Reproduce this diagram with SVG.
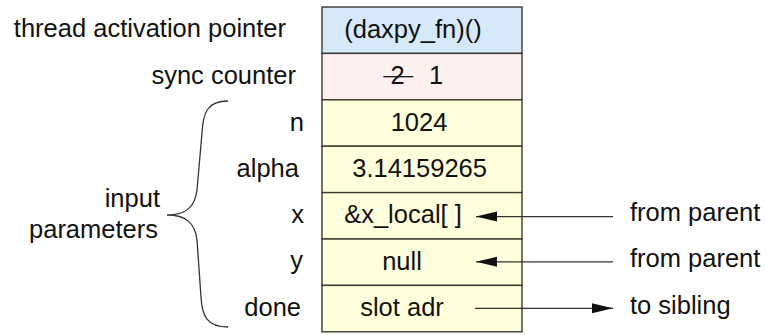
<svg xmlns="http://www.w3.org/2000/svg" width="766" height="335" viewBox="0 0 766 335">
<style>
text{font-family:"Liberation Sans",Arial,sans-serif;font-size:25.5px;fill:#111}
.r{text-anchor:end}
.m{text-anchor:middle}
.cell{stroke:#3a3a32;stroke-width:1.4}
.conn{stroke:#333;stroke-width:1.3;fill:none}
</style>
<defs>
<marker id="ah" markerUnits="userSpaceOnUse" markerWidth="22" markerHeight="12" refX="21" refY="5" orient="auto">
<path d="M0,0 L21,5 L0,10 Z" fill="#111"/>
</marker>
</defs>
<rect width="766" height="335" fill="#fff"/>
<g id="labels">
<text class="r" x="286" y="37">thread activation pointer</text>
<text class="r" x="296" y="83.5">sync counter</text>
<text class="r" x="304" y="130.5">n</text>
<text class="r" x="299" y="176.8">alpha</text>
<text class="r" x="304" y="223">x</text>
<text class="r" x="303" y="269">y</text>
<text class="r" x="301" y="315.5">done</text>
<text class="r" x="160" y="206.5">input</text>
<text class="r" x="158" y="238">parameters</text>
</g>
<g id="brace">
<path class="conn" d="M228,101 C207,101 203,113 202,133 L197,190 C195,207 186,215 167,215 C186,215 195,223 197,240 L201,297 C202,316 207,327 228,327"/>
</g>
<g id="frame">
<g id="row-pointer"><rect class="cell" x="322" y="7" width="200" height="46.4" fill="#d6e9fb"/><text class="m" x="413" y="37.5">(daxpy_fn)()</text></g>
<g id="row-sync"><rect class="cell" x="322" y="53.4" width="200" height="46.4" fill="#fff0f0"/><text x="390.5" y="83.5">2</text><line x1="383.3" y1="76.7" x2="413.3" y2="76.7" stroke="#111" stroke-width="1.3"/><text x="429" y="83.5">1</text></g>
<g id="row-n"><rect class="cell" x="322" y="99.8" width="200" height="46.4" fill="#ffffdc"/><text class="m" x="419" y="130.5">1024</text></g>
<g id="row-alpha"><rect class="cell" x="322" y="146.2" width="200" height="46.4" fill="#ffffdc"/><text class="m" x="419.6" y="176.8">3.14159265</text></g>
<g id="row-x"><rect class="cell" x="322" y="192.6" width="200" height="46.4" fill="#ffffdc"/><text class="m" x="403" y="223">&amp;x_local[ ]</text></g>
<g id="row-y"><rect class="cell" x="322" y="239" width="200" height="46.4" fill="#ffffdc"/><text class="m" x="402" y="269.5">null</text></g>
<g id="row-done"><rect class="cell" x="322" y="285.4" width="200" height="46.4" fill="#ffffdc"/><text class="m" x="402" y="315.8">slot adr</text></g>
</g>
<g id="connectors">
<line class="conn" x1="613" y1="216.6" x2="476" y2="216.6" marker-end="url(#ah)"/>
<line class="conn" x1="613" y1="261.8" x2="476" y2="261.8" marker-end="url(#ah)"/>
<line class="conn" x1="475" y1="308.3" x2="613" y2="308.3" marker-end="url(#ah)"/>
</g>
<g id="ext-labels">
<text x="630" y="221">from parent</text>
<text x="630" y="267">from parent</text>
<text x="630" y="313.5">to sibling</text>
</g>
</svg>
